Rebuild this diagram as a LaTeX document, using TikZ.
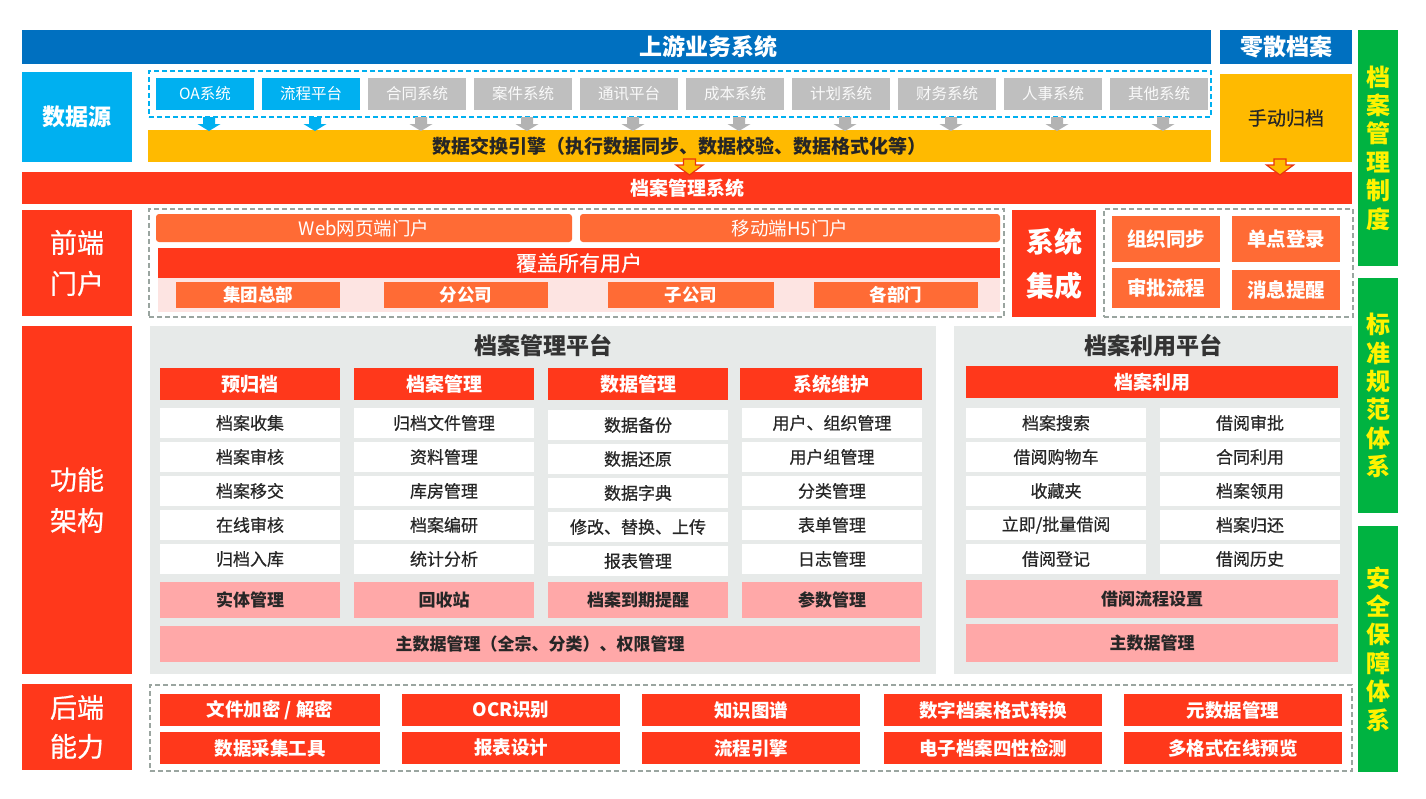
\documentclass[tikz,border=0pt]{standalone}
\usepackage{fontspec}
\setmainfont{Noto Sans CJK SC}
\newfontfamily\medfont[FakeBold=0.6]{Noto Sans CJK SC}
\usetikzlibrary{calc}
\definecolor{cBlue}{HTML}{0070C0}
\definecolor{cCyan}{HTML}{00B0F0}
\definecolor{cGray}{HTML}{BFBFBF}
\definecolor{cArrGray}{HTML}{B3B3B3}
\definecolor{cGold}{HTML}{FFBA00}
\definecolor{cRed}{HTML}{FF381B}
\definecolor{cArrRed}{HTML}{E8350E}
\definecolor{cOrange}{HTML}{FF6B35}
\definecolor{cPink}{HTML}{FFA8A8}
\definecolor{cPinkBg}{HTML}{FDE4E2}
\definecolor{cBg}{HTML}{E7EAE9}
\definecolor{cGreen}{HTML}{00B341}
\definecolor{cDash}{HTML}{9AA5A0}
\definecolor{cText}{HTML}{262626}
\definecolor{cTitle}{HTML}{333333}
\newcommand\fs[1]{\fontsize{#1}{#1}\selectfont}
\newcommand\bx[7]{\node[#1,minimum width={(#4)-(#2)},minimum height={(#5)-(#3)}] (#6) at ({((#2)+(#4))/2},{((#3)+(#5))/2}) {#7};}
\newcommand\garrow[2]{\fill[#2] ([xshift=-2pt,yshift=-7pt]#1.south) -- ++(12,0) -- ++(0,7) -- ++(5.5,0) -- ++(-11.5,7) -- ++(-11.5,-7) -- ++(5.5,0) -- cycle;}
\newcommand\harrow[2]{\filldraw[fill=cGold,draw=cArrRed,line width=1.2pt,line join=miter] ([xshift=#2]#1.south) ++(-6,-3) -- ++(12,0) -- ++(0,6) -- ++(7.5,0) -- ++(-13.5,10) -- ++(-13.5,-10) -- ++(7.5,0) -- cycle;}
\tikzset{
  every node/.style={inner sep=0pt,outer sep=0pt},
  topbar/.style={fill=cBlue,text=white,font=\fs{23}\bfseries},
  srcbox/.style={fill=cCyan,text=white,font=\fs{15.5}},
  sysbox/.style={fill=cGray,text=white!96!gray,font=\fs{15.5}},
  goldbox/.style={fill=cGold,text=cText},
  redbar/.style={fill=cRed,text=white},
  lblbox/.style={fill=cRed,text=white,align=center,font=\fontsize{27}{41}\selectfont\medfont},
  greenbar/.style={fill=cGreen,text=yellow,align=center,font=\fontsize{24}{28.4}\selectfont\bfseries},
  dashbox/.style={draw=cDash,dash pattern=on 5pt off 3pt,line width=1.3pt},
  cyandash/.style={draw=cCyan,dash pattern=on 5pt off 3pt,line width=1.5pt},
  portbox/.style={fill=cOrange,text=white,rounded corners=3pt,font=\fs{18.5}},
  orgbox/.style={fill=cOrange,text=white,font=\fs{17.5}\bfseries},
  intbox/.style={fill=cOrange,text=white,font=\fs{19.5}\bfseries},
  platbg/.style={fill=cBg},
  ptitle/.style={text=cTitle,font=\fs{23}\bfseries},
  hdrbox/.style={fill=cRed,text=white,font=\fs{19}\bfseries},
  rowbox/.style={fill=white,text=cText,font=\fs{17}\medfont},
  pinkbox/.style={fill=cPink,text=cText,font=\fs{17}\bfseries},
  backbox/.style={fill=cRed,text=white,font=\fs{18.5}\bfseries},
}
\begin{document}
\begin{tikzpicture}[x=1pt,y=-1pt]
\useasboundingbox[fill=white] (0,0) rectangle (1426,798);
% ---- top row
\bx{topbar}{22}{30}{1211}{64}{up}{}
\node[text=white,font=\fs{23}\bfseries] (upT) at (708,47) {上游业务系统};
\bx{topbar}{1220}{30}{1352}{64}{lingsan}{零散档案}
% ---- green side bars
\bx{greenbar}{1358}{30}{1398}{266}{g1}{档\\案\\管\\理\\制\\度}
\bx{greenbar}{1358}{278}{1398}{513}{g2}{标\\准\\规\\范\\体\\系}
\bx{greenbar}{1358}{526}{1398}{772}{g3}{安\\全\\保\\障\\体\\系}
% ---- data source
\bx{fill=cCyan,text=white,font=\fs{23}\bfseries}{22}{72}{132}{162}{dsrc}{数据源}
\bx{cyandash}{149}{71}{1211}{117}{srcdash}{}
\bx{srcbox}{156}{78}{254}{110}{s1}{OA系统}
\bx{srcbox}{262}{78}{360}{110}{s2}{流程平台}
\bx{sysbox}{368}{78}{466}{110}{s3}{合同系统}
\bx{sysbox}{474}{78}{572}{110}{s4}{案件系统}
\bx{sysbox}{580}{78}{678}{110}{s5}{通讯平台}
\bx{sysbox}{686}{78}{784}{110}{s6}{成本系统}
\bx{sysbox}{792}{78}{890}{110}{s7}{计划系统}
\bx{sysbox}{898}{78}{996}{110}{s8}{财务系统}
\bx{sysbox}{1004}{78}{1102}{110}{s9}{人事系统}
\bx{sysbox}{1110}{78}{1208}{110}{s10}{其他系统}
\bx{goldbox,font=\fs{19}\bfseries}{148}{130}{1211}{162}{xchg}{数据交换引擎（执行数据同步、数据校验、数据格式化等）}
\bx{goldbox,font=\fs{19}\medfont}{1220}{74}{1352}{162}{manual}{手动归档}
\garrow{s1}{cCyan}
\garrow{s2}{cCyan}
\foreach \i in {3,...,10}{\garrow{s\i}{cArrGray}}
% ---- archive system bar
\bx{redbar,font=\fs{19}\bfseries}{22}{172}{1352}{204}{ams}{档案管理系统}
\harrow{xchg}{10pt}
\harrow{manual}{-6pt}
% ---- front portal
\bx{lblbox}{22}{210}{132}{316}{front}{前端\\门户}
\bx{dashbox}{149}{209}{1004}{317}{frontdash}{}
\bx{portbox}{156}{214}{572}{242}{web}{Web网页端门户}
\bx{portbox}{580}{214}{1000}{242}{h5}{移动端H5门户}
\bx{redbar,font=\fs{21}\medfont}{158}{248}{1000}{278}{allusers}{覆盖所有用户}
\bx{fill=cPinkBg}{158}{278}{1000}{312}{orgbg}{}
\bx{orgbox}{176}{282}{340}{308}{o1}{集团总部}
\bx{orgbox}{384}{282}{548}{308}{o2}{分公司}
\bx{orgbox}{608}{282}{774}{308}{o3}{子公司}
\bx{orgbox}{814}{282}{978}{308}{o4}{各部门}
\bx{lblbox,font=\fontsize{28}{44}\selectfont\bfseries}{1012}{210}{1096}{317}{integ}{系统\\集成}
\bx{dashbox}{1104}{209}{1353}{317}{integdash}{}
\bx{intbox}{1112}{216}{1220}{262}{i1}{组织同步}
\bx{intbox}{1232}{216}{1340}{262}{i2}{单点登录}
\bx{intbox}{1112}{268}{1220}{308}{i3}{审批流程}
\bx{intbox}{1232}{270}{1340}{310}{i4}{消息提醒}
% ---- function architecture
\bx{lblbox}{22}{326}{132}{674}{func}{功能\\架构}
\bx{platbg}{150}{326}{936}{674}{mgmtbg}{}
\node[ptitle] (mgmtT) at (543,346) {档案管理平台};
\bx{platbg}{954}{326}{1352}{674}{usebg}{}
\node[ptitle] (useT) at (1153,346) {档案利用平台};
% column 1
\bx{hdrbox}{160}{368}{340}{400}{h1}{预归档}
\bx{rowbox}{160}{408}{340}{438}{a1}{档案收集}
\bx{rowbox}{160}{442}{340}{472}{a2}{档案审核}
\bx{rowbox}{160}{476}{340}{506}{a3}{档案移交}
\bx{rowbox}{160}{510}{340}{540}{a4}{在线审核}
\bx{rowbox}{160}{544}{340}{574}{a5}{归档入库}
\bx{pinkbox}{160}{582}{340}{618}{a6}{实体管理}
% column 2
\bx{hdrbox}{354}{368}{534}{400}{h2}{档案管理}
\bx{rowbox}{354}{408}{534}{438}{b1}{归档文件管理}
\bx{rowbox}{354}{442}{534}{472}{b2}{资料管理}
\bx{rowbox}{354}{476}{534}{506}{b3}{库房管理}
\bx{rowbox}{354}{510}{534}{540}{b4}{档案编研}
\bx{rowbox}{354}{544}{534}{574}{b5}{统计分析}
\bx{pinkbox}{354}{582}{534}{618}{b6}{回收站}
% column 3
\bx{hdrbox}{548}{368}{728}{400}{h3}{数据管理}
\bx{rowbox}{548}{410}{728}{440}{c1}{数据备份}
\bx{rowbox}{548}{444}{728}{474}{c2}{数据还原}
\bx{rowbox}{548}{478}{728}{508}{c3}{数据字典}
\bx{rowbox}{548}{512}{728}{542}{c4}{修改、替换、上传}
\bx{rowbox}{548}{546}{728}{576}{c5}{报表管理}
\bx{pinkbox}{548}{582}{728}{618}{c6}{档案到期提醒}
% column 4
\bx{hdrbox}{740}{368}{922}{400}{h4}{系统维护}
\bx{rowbox}{742}{408}{922}{438}{d1}{用户、组织管理}
\bx{rowbox}{742}{442}{922}{472}{d2}{用户组管理}
\bx{rowbox}{742}{476}{922}{506}{d3}{分类管理}
\bx{rowbox}{742}{510}{922}{540}{d4}{表单管理}
\bx{rowbox}{742}{544}{922}{574}{d5}{日志管理}
\bx{pinkbox}{742}{582}{922}{618}{d6}{参数管理}
\bx{pinkbox}{160}{626}{920}{662}{master}{主数据管理（全宗、分类）、权限管理}
% utilisation platform
\bx{hdrbox}{966}{366}{1338}{398}{h5}{档案利用}
\bx{rowbox}{966}{408}{1146}{438}{e1}{档案搜索}
\bx{rowbox}{966}{442}{1146}{472}{e2}{借阅购物车}
\bx{rowbox}{966}{476}{1146}{506}{e3}{收藏夹}
\bx{rowbox}{966}{510}{1146}{540}{e4}{立即/批量借阅}
\bx{rowbox}{966}{544}{1146}{574}{e5}{借阅登记}
\bx{rowbox}{1160}{408}{1340}{438}{f1}{借阅审批}
\bx{rowbox}{1160}{442}{1340}{472}{f2}{合同利用}
\bx{rowbox}{1160}{476}{1340}{506}{f3}{档案领用}
\bx{rowbox}{1160}{510}{1340}{540}{f4}{档案归还}
\bx{rowbox}{1160}{544}{1340}{574}{f5}{借阅历史}
\bx{pinkbox}{966}{580}{1338}{618}{e6}{借阅流程设置}
\bx{pinkbox}{966}{624}{1338}{662}{e7}{主数据管理}
% ---- back end
\bx{lblbox,font=\fontsize{27}{39}\selectfont\medfont}{22}{684}{132}{770}{back}{后端\\能力}
\bx{dashbox}{150}{685}{1352}{771}{backdash}{}
\bx{backbox}{160}{694}{380}{726}{k1}{文件加密 / 解密}
\bx{backbox}{402}{694}{620}{726}{k2}{OCR识别}
\bx{backbox}{642}{694}{860}{726}{k3}{知识图谱}
\bx{backbox}{884}{694}{1102}{726}{k4}{数字档案格式转换}
\bx{backbox}{1124}{694}{1342}{726}{k5}{元数据管理}
\bx{backbox}{160}{732}{380}{764}{k6}{数据采集工具}
\bx{backbox}{402}{732}{620}{764}{k7}{报表设计}
\bx{backbox}{642}{732}{860}{764}{k8}{流程引擎}
\bx{backbox}{884}{732}{1102}{764}{k9}{电子档案四性检测}
\bx{backbox}{1124}{732}{1342}{764}{k10}{多格式在线预览}
\end{tikzpicture}
\end{document}
